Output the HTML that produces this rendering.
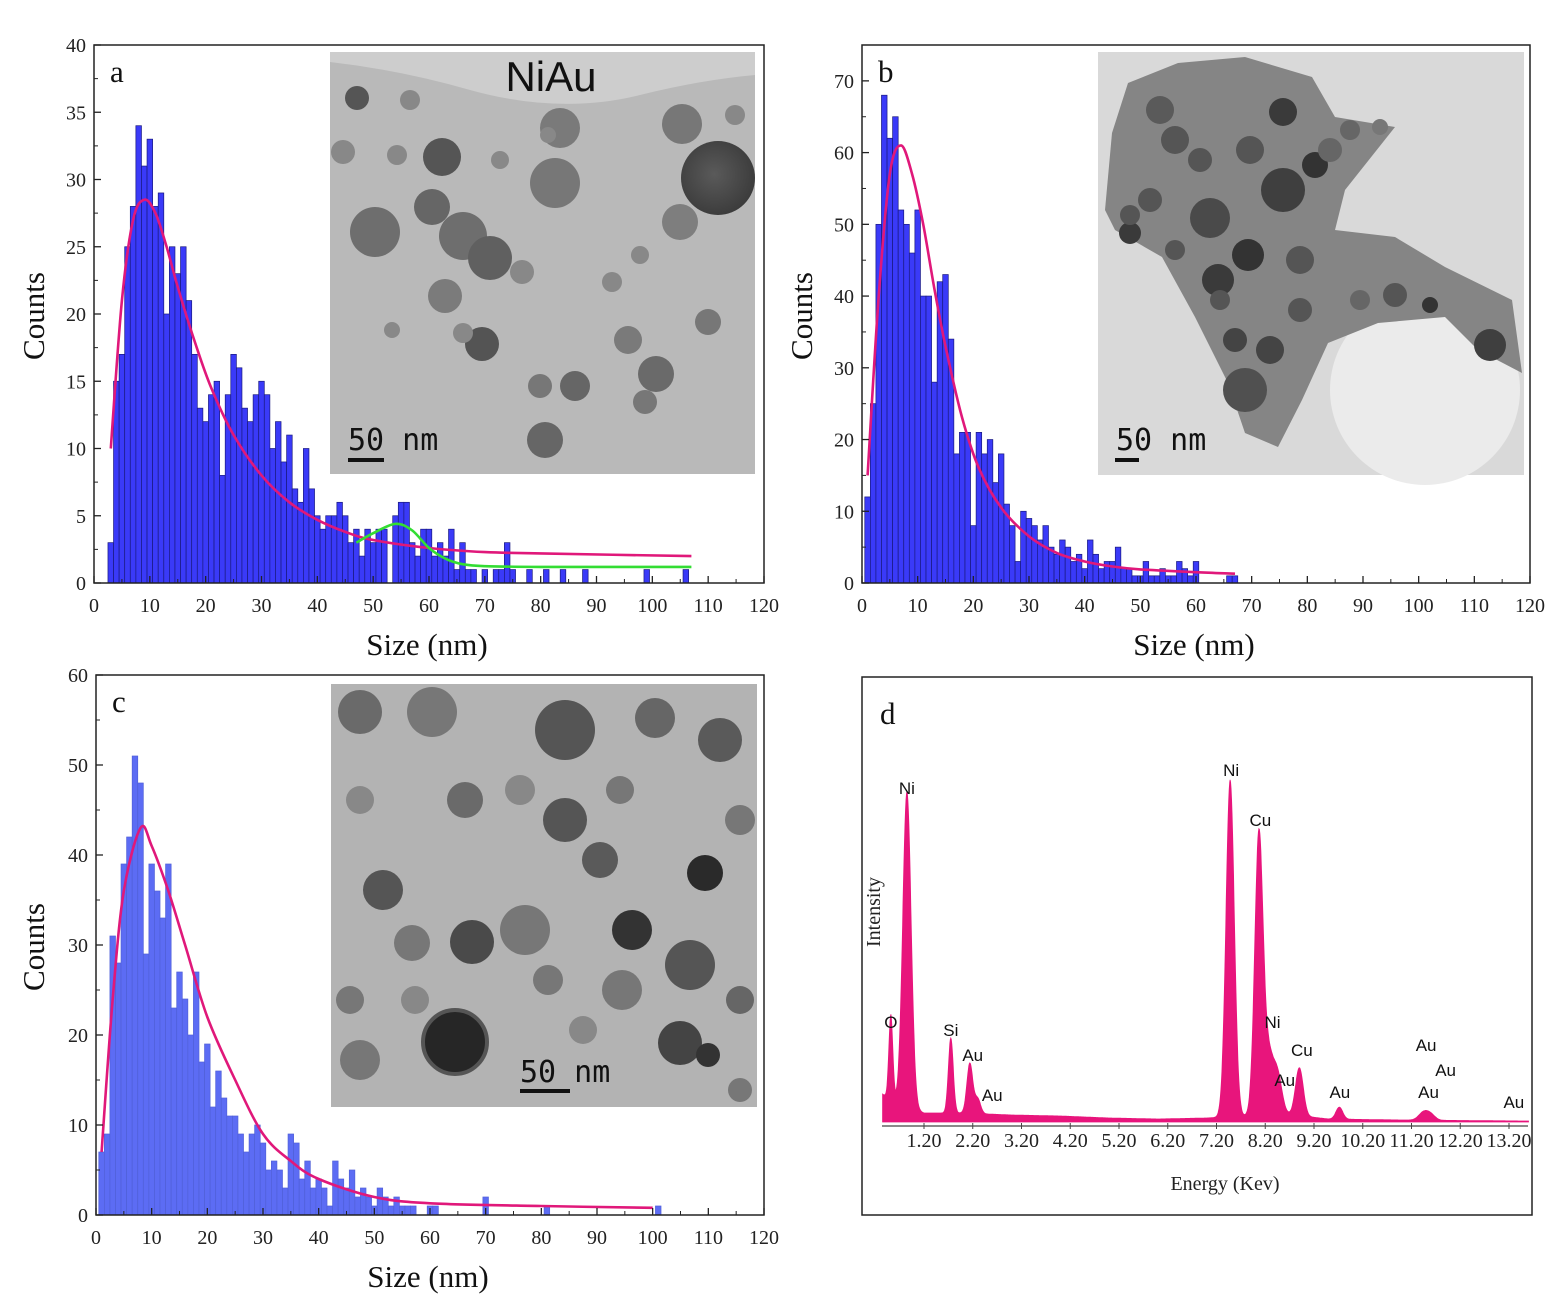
<!DOCTYPE html>
<html><head><meta charset="utf-8">
<style>
html,body{margin:0;padding:0;background:#fff;}
svg{display:block;}
.tk{font-family:"Liberation Serif",serif;font-size:20px;fill:#222;}
.ttl{font-family:"Liberation Serif",serif;font-size:31px;fill:#111;}
.sb{font-family:"DejaVu Sans Mono","Liberation Mono",monospace;font-size:30px;fill:#111;}
.el{font-family:"Liberation Sans",sans-serif;font-size:17px;fill:#111;}
</style></head>
<body>
<svg id="fig" width="1568" height="1312" viewBox="0 0 1568 1312" xmlns="http://www.w3.org/2000/svg">
<defs>
<radialGradient id="pd" cx="0.45" cy="0.45" r="0.6"><stop offset="0" stop-color="#5a5a5a"/><stop offset="1" stop-color="#3a3a3a"/></radialGradient>
</defs>
<g id="pa"></g>
<g id="pb"></g>
<g id="pc"></g>
<g id="pdd"></g>

<!-- inset a -->
<g>
<rect x="330" y="52" width="425" height="422" fill="#b9b9b9"/>
<path d="M330 52 L755 52 L755 75 Q700 80 640 95 Q560 115 470 90 Q400 70 330 62 Z" fill="#cdcdcd"/>
<g fill="#6e6e6e">
<circle cx="375" cy="232" r="25"/><circle cx="463" cy="236" r="24"/><circle cx="490" cy="258" r="22" fill="#606060"/>
<circle cx="555" cy="183" r="25" fill="#777"/><circle cx="560" cy="128" r="20" fill="#7a7a7a"/><circle cx="442" cy="157" r="19" fill="#555"/>
<circle cx="432" cy="207" r="18" fill="#666"/><circle cx="682" cy="124" r="20" fill="#777"/><circle cx="680" cy="222" r="18" fill="#7e7e7e"/>
<circle cx="545" cy="440" r="18" fill="#666"/><circle cx="482" cy="344" r="17" fill="#545454"/><circle cx="445" cy="296" r="17" fill="#7b7b7b"/>
<circle cx="628" cy="340" r="14" fill="#7a7a7a"/><circle cx="656" cy="374" r="18" fill="#6a6a6a"/><circle cx="575" cy="386" r="15" fill="#666"/>
<circle cx="357" cy="98" r="12" fill="#555"/><circle cx="343" cy="152" r="12" fill="#888"/><circle cx="397" cy="155" r="10" fill="#888"/>
<circle cx="410" cy="100" r="10" fill="#888"/><circle cx="612" cy="282" r="10" fill="#888"/><circle cx="708" cy="322" r="13" fill="#777"/>
<circle cx="522" cy="272" r="12" fill="#888"/><circle cx="392" cy="330" r="8" fill="#888"/><circle cx="463" cy="333" r="10" fill="#888"/>
<circle cx="540" cy="386" r="12" fill="#777"/><circle cx="645" cy="402" r="12" fill="#777"/><circle cx="548" cy="135" r="8" fill="#888"/>
<circle cx="500" cy="160" r="9" fill="#888"/><circle cx="640" cy="255" r="9" fill="#888"/><circle cx="735" cy="115" r="10" fill="#888"/>
</g>
<circle cx="718" cy="178" r="37" fill="url(#pd)"/>
<text x="551" y="91" text-anchor="middle" font-family="Liberation Sans,sans-serif" font-size="42" fill="#111">NiAu</text>
<text x="348" y="450" class="sb">50 nm</text>
<rect x="348" y="458" width="36" height="4" fill="#111"/>
</g>

<!-- inset b -->
<g>
<rect x="1098" y="52" width="426" height="423" fill="#d9d9d9"/>
<circle cx="1425" cy="390" r="95" fill="#ebebeb"/>
<path d="M1112 133 L1128 83 L1178 63 L1245 57 L1312 77 L1335 117 L1395 127 L1345 190 L1335 230 L1395 237 L1445 267 L1512 300 L1522 373 L1478 350 L1445 317 L1378 323 L1328 343 L1302 400 L1278 447 L1245 433 L1228 383 L1195 317 L1162 257 L1115 230 L1105 210 Z" fill="#858585"/>
<g fill="#4a4a4a">
<circle cx="1283" cy="112" r="14" fill="#3a3a3a"/><circle cx="1283" cy="190" r="22" fill="#3f3f3f"/><circle cx="1315" cy="165" r="13" fill="#333"/>
<circle cx="1210" cy="218" r="20"/><circle cx="1248" cy="255" r="16" fill="#333"/><circle cx="1218" cy="280" r="16" fill="#3a3a3a"/>
<circle cx="1160" cy="110" r="14" fill="#5a5a5a"/><circle cx="1175" cy="140" r="14" fill="#555"/><circle cx="1130" cy="233" r="11" fill="#3a3a3a"/>
<circle cx="1300" cy="260" r="14" fill="#555"/><circle cx="1245" cy="390" r="22" fill="#505050"/><circle cx="1270" cy="350" r="14" fill="#444"/>
<circle cx="1235" cy="340" r="12" fill="#444"/><circle cx="1220" cy="300" r="10" fill="#555"/><circle cx="1150" cy="200" r="12" fill="#555"/>
<circle cx="1200" cy="160" r="12" fill="#555"/><circle cx="1250" cy="150" r="14" fill="#555"/><circle cx="1330" cy="150" r="12" fill="#666"/>
<circle cx="1300" cy="310" r="12" fill="#555"/><circle cx="1395" cy="295" r="12" fill="#555"/><circle cx="1490" cy="345" r="16" fill="#3f3f3f"/>
<circle cx="1430" cy="305" r="8" fill="#333"/><circle cx="1360" cy="300" r="10" fill="#666"/><circle cx="1175" cy="250" r="10" fill="#555"/>
<circle cx="1350" cy="130" r="10" fill="#666"/><circle cx="1380" cy="127" r="8" fill="#777"/><circle cx="1130" cy="215" r="10" fill="#555"/>
</g>
<text x="1116" y="450" class="sb">50 nm</text>
<rect x="1115" y="458" width="24" height="4" fill="#111"/>
</g>

<!-- inset c -->
<g>
<rect x="331" y="684" width="426" height="423" fill="#b3b3b3"/>
<g fill="#7a7a7a">
<circle cx="360" cy="712" r="22" fill="#6a6a6a"/><circle cx="432" cy="712" r="25" fill="#777"/><circle cx="565" cy="730" r="30" fill="#555"/>
<circle cx="655" cy="718" r="20" fill="#666"/><circle cx="720" cy="740" r="22" fill="#5a5a5a"/><circle cx="465" cy="800" r="18" fill="#6a6a6a"/>
<circle cx="383" cy="890" r="20" fill="#555"/><circle cx="600" cy="860" r="18" fill="#5a5a5a"/><circle cx="705" cy="873" r="18" fill="#2a2a2a"/>
<circle cx="412" cy="943" r="18" fill="#777"/><circle cx="472" cy="942" r="22" fill="#4a4a4a"/><circle cx="525" cy="930" r="25" fill="#777"/>
<circle cx="632" cy="930" r="20" fill="#333"/><circle cx="690" cy="965" r="25" fill="#555"/><circle cx="548" cy="980" r="15" fill="#777"/>
<circle cx="622" cy="990" r="20" fill="#777"/><circle cx="680" cy="1043" r="22" fill="#444"/><circle cx="708" cy="1055" r="12" fill="#333"/>
<circle cx="360" cy="1060" r="20" fill="#777"/><circle cx="350" cy="1000" r="14" fill="#777"/><circle cx="565" cy="820" r="22" fill="#555"/>
<circle cx="520" cy="790" r="15" fill="#888"/><circle cx="620" cy="790" r="14" fill="#777"/><circle cx="740" cy="820" r="15" fill="#777"/>
<circle cx="415" cy="1000" r="14" fill="#888"/><circle cx="583" cy="1030" r="14" fill="#888"/><circle cx="740" cy="1000" r="14" fill="#666"/>
<circle cx="360" cy="800" r="14" fill="#888"/><circle cx="740" cy="1090" r="12" fill="#777"/>
</g>
<circle cx="455" cy="1042" r="32" fill="#262626" stroke="#555" stroke-width="4"/>
<text x="520" y="1082" class="sb">50 nm</text>
<rect x="520" y="1089" width="50" height="4" fill="#111"/>
</g>
</svg>

<script>
// ---- data ----
const aBinStart = 2.5;
const aCounts = [3,15,17,25,28,34,31,33,28,29,20,25,23,25,21,17,13,12,14,15,8,14,17,16,13,12,14,15,14,10,12,9,11,7,6,10,7,5,4,5,5,6,5,3,4,2,4,3,4,4,0,5,6,6,3,2,4,4,2,3,2,4,1,3,1,1,0,1,0,1,1,3,1,0,0,1,0,0,1,0,0,1,0,0,0,1,0,0,0,0,0,0,0,0,0,0,1,0,0,0,0,0,0,1];
const aFitX = [3,5,7,9,11,13,15,18,21,25,30,35,40,45,50,60,70,80,107];
const aFitY = [10,21,27,28.5,27.5,25,22,18,14.5,11,8,6,4.7,3.8,3.2,2.6,2.3,2.2,2.0];
const aFit2X = [47,50,54,57,60,63,66,70,80,107];
const aFit2Y = [3,3.7,4.4,3.9,2.6,1.8,1.4,1.25,1.2,1.2];

const bBinStart = 0.5;
const bCounts = [12,25,50,68,62,65,52,50,46,52,40,40,28,42,43,34,18,21,21,8,21,18,20,14,18,11,8,3,10,9,8,6,8,5,4,6,5,3,4,2,6,4,2,3,3,5,2,2,1,1,3,1,1,2,1,1,3,2,1,3,0,0,0,0,0,1,1];
const bFitX = [1,3,5,7,9,11,13,15,18,21,25,30,35,40,45,50,60,67];
const bFitY = [15,40,57,61,57,50,41,33,23,16,10.5,6.5,4.2,3,2.3,1.9,1.5,1.3];

const cBinStart = 0.5;
const cCounts = [7,9,31,28,39,42,51,48,29,39,36,33,39,23,27,24,20,27,17,19,12,16,13,11,11,9,7,9,10,8,5,6,5,3,9,8,4,6,3,4,3,1,6,4,3,5,2,3,2,1,3,2,1,2,1,1,1,0,0,1,1,0,0,0,0,0,0,0,0,2,0,0,0,0,0,0,0,0,0,0,1,0,0,0,0,0,0,0,0,0,0,0,0,0,0,0,0,0,0,0,1];
const cFitX = [1,3,5,8,10,13,16,20,25,30,35,40,50,60,80,100];
const cFitY = [7,24,36,43,41,36,30,22,15,9,6,4,2,1.3,1,0.8];

const xTicks = [0,10,20,30,40,50,60,70,80,90,100,110,120];
const aYTicks = [0,5,10,15,20,25,30,35,40];
const bYTicks = [0,10,20,30,40,50,60,70];
const cYTicks = [0,10,20,30,40,50,60];

const dPeakE = [0.52,0.85,1.75,2.14,2.3,7.48,8.07,8.27,8.45,8.9,9.72,11.45,11.6];
const dPeakH = [85,315,75,50,15,337,282,55,40,48,12,8,5];
const dPeakW = [0.04,0.085,0.05,0.06,0.06,0.085,0.085,0.09,0.09,0.08,0.07,0.1,0.09];
const dBaseE = [0.35,0.6,1.2,2.0,3.0,4.0,5.0,6.0,7.0,8.6,9.5,11,13.5];
const dBaseI = [28,20,9,9,7,6,4,3,4,8,3,2,1];
const dTickLabels = ["1.20","2.20","3.20","4.20","5.20","6.20","7.20","8.20","9.20","10.20","11.20","12.20","13.20"];
const dLabels = ["O","Ni","Si","Au","Au","Ni","Cu","Ni","Cu","Au","Au","Au","Au","Au","Au"];
const dLabelE = [0.52,0.85,1.75,2.2,2.6,7.5,8.1,8.35,8.95,8.6,9.73,11.5,11.9,11.55,13.3];
const dLabelI = [88,322,80,55,15,340,290,88,60,30,18,65,40,18,8];

const NS = "http://www.w3.org/2000/svg";
function mk(tag, attrs, parent){ const e=document.createElementNS(NS,tag); for(const k in attrs) e.setAttribute(k,attrs[k]); parent.appendChild(e); return e; }
function smooth(pts){
  let d='M'+pts[0][0].toFixed(1)+' '+pts[0][1].toFixed(1);
  for(let i=0;i<pts.length-1;i++){
    const p0=pts[Math.max(0,i-1)],p1=pts[i],p2=pts[i+1],p3=pts[Math.min(pts.length-1,i+2)];
    const c1=[p1[0]+(p2[0]-p0[0])/6,p1[1]+(p2[1]-p0[1])/6];
    const c2=[p2[0]-(p3[0]-p1[0])/6,p2[1]-(p3[1]-p1[1])/6];
    d+=' C'+c1[0].toFixed(1)+' '+c1[1].toFixed(1)+' '+c2[0].toFixed(1)+' '+c2[1].toFixed(1)+' '+p2[0].toFixed(1)+' '+p2[1].toFixed(1);
  }
  return d;
}

function histPanel(g, box, yMax, yTicks, binStart, counts, fits, letter, barFill, barStroke){
  const sx = v => box.x0 + (v/120)*(box.x1-box.x0);
  const sy = v => box.y1 - (v/yMax)*(box.y1-box.y0);
  counts.forEach((c,i)=>{
    if(c<=0) return;
    const xl=sx(binStart+i), xr=sx(binStart+i+1);
    const r=mk('rect',{x:xl,y:sy(c),width:xr-xl,height:sy(0)-sy(c),fill:barFill,stroke:barStroke,'stroke-width':0.7},g);
    
    
  });
  fits.forEach(f=>{
    const pts=f.x.map((v,i)=>[sx(v),sy(f.y[i])]);
    const p=mk('path',{d:smooth(pts),fill:'none',stroke:f.color,'stroke-width':2.6,'stroke-linejoin':'round'},g);
    
    
  });
  const fr=mk('rect',{x:box.x0,y:box.y0,width:box.x1-box.x0,height:box.y1-box.y0,fill:'none',stroke:'#222','stroke-width':1.5},g);
  
  
  xTicks.forEach(t=>{
    mk('line',{x1:sx(t),x2:sx(t),y1:box.y1,y2:box.y1-7,stroke:'#222','stroke-width':1.3},g);
    if(t<120) mk('line',{x1:sx(t+5),x2:sx(t+5),y1:box.y1,y2:box.y1-4,stroke:'#222','stroke-width':1},g);
    const tx=mk('text',{x:sx(t),y:box.y1+29,'text-anchor':'middle',class:'tk'},g);
    tx.textContent=t;
    
    
  });
  const step=yTicks[1]-yTicks[0];
  yTicks.forEach(t=>{
    mk('line',{x1:box.x0,x2:box.x0+7,y1:sy(t),y2:sy(t),stroke:'#222','stroke-width':1.3},g);
    if(t<yMax) mk('line',{x1:box.x0,x2:box.x0+4,y1:sy(t+step/2),y2:sy(t+step/2),stroke:'#222','stroke-width':1},g);
    const ty=mk('text',{x:box.x0-8,y:sy(t)+7,'text-anchor':'end',class:'tk'},g);
    ty.textContent=t;
    
    
  });
  const xl=mk('text',{x:(box.x0+box.x1)/2-2,y:box.y1+72,'text-anchor':'middle',class:'ttl'},g);
  xl.textContent='Size (nm)';
  
  
  const cy=(box.y0+box.y1)/2+2;
  const yl=mk('text',{x:box.lx,y:cy,'text-anchor':'middle',class:'ttl',transform:'rotate(-90 '+box.lx+' '+cy+')'},g);
  yl.textContent='Counts';
  
  
  const lt=mk('text',{x:box.x0+16,y:box.y0+37,class:'ttl','font-size':'38'},g);
  lt.textContent=letter;
  
  
}

histPanel(document.getElementById('pa'),{x0:94,x1:764,y0:45,y1:583,lx:44},40,aYTicks,aBinStart,aCounts,
  [{x:aFitX,y:aFitY,color:'#e0187a',name:'lognormal-fit-curve'},{x:aFit2X,y:aFit2Y,color:'#33dd33',name:'gaussian-fit-curve'}],'a','#3a3af8','#1a1a80');
histPanel(document.getElementById('pb'),{x0:862,x1:1530,y0:45,y1:583,lx:812},75,bYTicks,bBinStart,bCounts,
  [{x:bFitX,y:bFitY,color:'#e0187a',name:'lognormal-fit-curve'}],'b','#3a3af8','#1a1a80');
histPanel(document.getElementById('pc'),{x0:96,x1:764,y0:675,y1:1215,lx:44},60,cYTicks,cBinStart,cCounts,
  [{x:cFitX,y:cFitY,color:'#e0187a',name:'lognormal-fit-curve'}],'c','#5c6cf4','#5060d8');

// ---- panel d (EDS) ----
(function(){
  const g=document.getElementById('pdd');
  const sx=e=>924+(e-1.2)*48.75;
  const base=1122;
  const sy=i=>base-i;
  const fr=mk('rect',{x:862,y:677,width:670,height:538,fill:'none',stroke:'#222','stroke-width':1.5},g);
  
  
  function baseAt(e){
    for(let k=0;k<dBaseE.length-1;k++){ if(e<=dBaseE[k+1]){ const t=(e-dBaseE[k])/(dBaseE[k+1]-dBaseE[k]); return dBaseI[k]+t*(dBaseI[k+1]-dBaseI[k]); } }
    return dBaseI[dBaseI.length-1];
  }
  let d='M'+sx(0.35)+' '+base;
  for(let e=0.35;e<=13.6;e+=0.01){
    let I=baseAt(e);
    dPeakE.forEach((p,k)=>{ I+=dPeakH[k]*Math.exp(-0.5*Math.pow((e-p)/dPeakW[k],2)); });
    d+=' L'+sx(e).toFixed(1)+' '+sy(I).toFixed(1);
  }
  d+=' L'+sx(13.6)+' '+base+' Z';
  const sp=mk('path',{d:d,fill:'#e8157c',stroke:'#e8157c','stroke-width':0.8},g);
  
  
  mk('line',{x1:882,x2:1528,y1:1126,y2:1126,stroke:'#444','stroke-width':1.2},g);
  dTickLabels.forEach(t=>{
    const x=sx(parseFloat(t));
    mk('line',{x1:x,x2:x,y1:1123,y2:1129,stroke:'#444','stroke-width':1},g);
    const tx=mk('text',{x:x,y:1147,'text-anchor':'middle',class:'tk','font-size':'15'},g);
    tx.textContent=t;
    
    
  });
  dLabels.forEach((l,k)=>{
    const tx=mk('text',{x:sx(dLabelE[k]),y:sy(dLabelI[k])-6,'text-anchor':'middle',class:'el'},g);
    tx.textContent=l;
    
    
  });
  const xl=mk('text',{x:1225,y:1190,'text-anchor':'middle',class:'tk','font-size':'20'},g);
  xl.textContent='Energy (Kev)';
  
  
  const yl=mk('text',{x:880,y:912,'text-anchor':'middle',class:'tk','font-size':'17',transform:'rotate(-90 880 912)'},g);
  yl.textContent='Intensity';
  
  
  const lt=mk('text',{x:880,y:724,class:'ttl','font-size':'38'},g);
  lt.textContent='d';
  
  
})();
</script>
</body></html>
